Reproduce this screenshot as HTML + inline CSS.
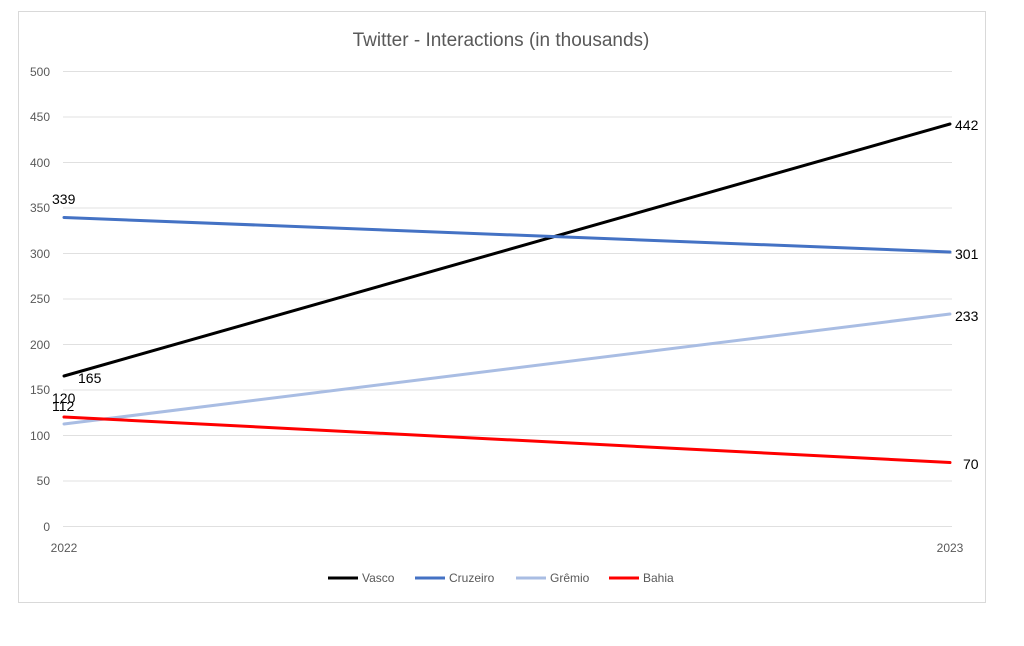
<!DOCTYPE html><html><head><style>body{margin:0;background:#fff}</style></head><body>
<svg width="1024" height="641" xmlns="http://www.w3.org/2000/svg" font-family="Liberation Sans, sans-serif">
<rect x="18.5" y="11.5" width="967" height="591" fill="#fff" stroke="#d9d9d9"/>
<text x="501" y="46" font-size="19" fill="#595959" text-anchor="middle">Twitter - Interactions (in thousands)</text>
<g stroke="#e0e0e0" stroke-width="1">
<line x1="63" x2="952" y1="71.5" y2="71.5"/><line x1="63" x2="952" y1="117" y2="117"/><line x1="63" x2="952" y1="162.5" y2="162.5"/><line x1="63" x2="952" y1="208" y2="208"/><line x1="63" x2="952" y1="253.5" y2="253.5"/><line x1="63" x2="952" y1="299" y2="299"/><line x1="63" x2="952" y1="344.5" y2="344.5"/><line x1="63" x2="952" y1="390" y2="390"/><line x1="63" x2="952" y1="435.5" y2="435.5"/><line x1="63" x2="952" y1="481" y2="481"/><line x1="63" x2="952" y1="526.5" y2="526.5"/>
</g>
<g font-size="12" fill="#595959" text-anchor="end">
<text x="50" y="76">500</text><text x="50" y="121">450</text><text x="50" y="167">400</text><text x="50" y="212">350</text><text x="50" y="258">300</text><text x="50" y="303">250</text><text x="50" y="349">200</text><text x="50" y="394">150</text><text x="50" y="440">100</text><text x="50" y="485">50</text><text x="50" y="531">0</text>
</g>
<g font-size="12" fill="#595959" text-anchor="middle"><text x="64" y="552">2022</text><text x="950" y="552">2023</text></g>
<g fill="none" stroke-width="3" stroke-linecap="round">
<line x1="64" y1="376" x2="950" y2="124" stroke="#000"/>
<line x1="64" y1="217.5" x2="950" y2="252" stroke="#4472c4"/>
<line x1="64" y1="424" x2="950" y2="314" stroke="#a9bde3"/>
<line x1="64" y1="417" x2="950" y2="462.5" stroke="#ff0000"/>
</g>
<g font-size="14" fill="#000">
<text x="78" y="383">165</text><text x="52" y="204">339</text><text x="52" y="403">120</text><text x="52" y="411">112</text>
<text x="955" y="130">442</text><text x="955" y="259">301</text><text x="955" y="321">233</text><text x="963" y="469">70</text>
</g>
<g font-size="12" fill="#595959">
<line x1="328" y1="578" x2="358" y2="578" stroke="#000" stroke-width="3"/><text x="362" y="582">Vasco</text>
<line x1="415" y1="578" x2="445" y2="578" stroke="#4472c4" stroke-width="3"/><text x="449" y="582">Cruzeiro</text>
<line x1="516" y1="578" x2="546" y2="578" stroke="#a9bde3" stroke-width="3"/><text x="550" y="582">Grêmio</text>
<line x1="609" y1="578" x2="639" y2="578" stroke="#ff0000" stroke-width="3"/><text x="643" y="582">Bahia</text>
</g>
</svg></body></html>
